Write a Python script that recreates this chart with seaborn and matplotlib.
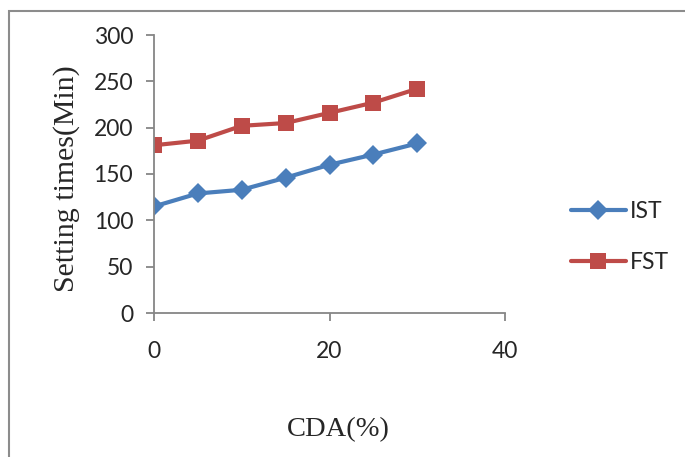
import matplotlib
matplotlib.use("Agg")
import matplotlib.pyplot as plt
import seaborn as sns
import pandas as pd
from matplotlib.patches import Rectangle
from matplotlib.lines import Line2D

cda = [0, 5, 10, 15, 20, 25, 30]
ist = [115, 129, 133, 146, 160, 171, 183]
fst = [181, 186, 202, 205, 216, 227, 242]
series_names = ["IST", "FST"]
colors = ["#4a7ebb", "#be4b48"]
markers = ["D", "s"]

df = pd.DataFrame({"CDA": cda * 2, "value": ist + fst,
                   "series": ["IST"] * len(cda) + ["FST"] * len(cda)})

sns.set_style("white")
plt.rcParams["font.family"] = ["Lato", "DejaVu Sans"]

fig = plt.figure(figsize=(6.85, 4.57), dpi=100)
ax = fig.add_axes([154 / 685, 1 - 313 / 457, (505 - 154) / 685, (313 - 35) / 457])

sns.lineplot(data=df, x="CDA", y="value", hue="series", style="series",
             hue_order=series_names, style_order=series_names,
             palette=colors, markers=dict(zip(series_names, markers)), dashes=False,
             linewidth=3, markersize=9, markeredgewidth=0, ax=ax, legend=False)
for line, ms in zip(ax.get_lines(), [10, 11.5]):
    line.set_markersize(ms)

ax.set_xlim(0, 40)
ax.set_ylim(0, 300)
ax.set_xticks([0, 20, 40])
ax.set_yticks(range(0, 301, 50))
for s in ["top", "right"]:
    ax.spines[s].set_visible(False)
for s in ["left", "bottom"]:
    ax.spines[s].set_color("#868686")
    ax.spines[s].set_linewidth(1.3)
ax.tick_params(axis="both", which="major", length=6, width=1.3, color="#868686",
               labelsize=16.5, direction="out", left=True, bottom=True)
ax.tick_params(axis="y", pad=9)
ax.tick_params(axis="x", pad=14)
ax.set_xlabel("")
ax.set_ylabel("Setting times(Min)", family="Liberation Serif", fontsize=21.5)
ax.yaxis.set_label_coords((80 - 154) / 351, (313 - 179) / 278)

fig.text(338 / 685, 1 - 430 / 457, "CDA(%)", family="Liberation Serif", fontsize=20.5,
         ha="center", va="center")

handles = [Line2D([0], [0], color=c, marker=m, lw=3, markersize=ms, markeredgewidth=0)
           for c, m, ms in zip(colors, markers, [10, 11.5])]
fig.legend(handles, series_names, loc="center left", bbox_to_anchor=(550 / 685, 1 - 237 / 457),
           frameon=False, fontsize=16.5, handlelength=2.4, handletextpad=0.2, labelspacing=1.3)

fig.patches.append(Rectangle((9 / 685, -0.1), 1.2, (1 - 11 / 457) + 0.1,
                             transform=fig.transFigure, fill=False, edgecolor="#8c8c8c",
                             linewidth=1.5, clip_on=False))

fig.savefig("out.png", dpi=100)
